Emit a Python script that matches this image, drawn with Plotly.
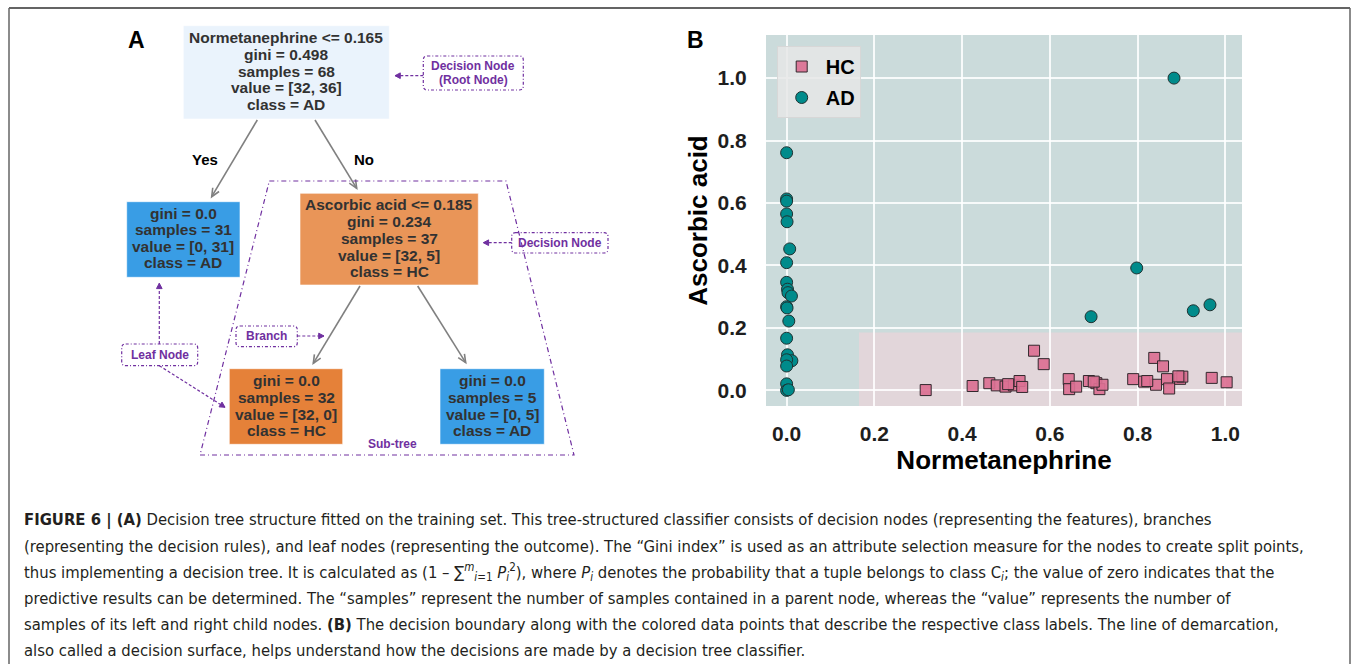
import plotly.graph_objects as go
import numpy as np

W, H = 1355, 664

# ---------------- data (panel B) ----------------
ad_x = [0.000, 0.000, 0.000, 0.000, 0.001, 0.007, 0.000, 0.000, 0.002, 0.003, 0.011,
        0.000, 0.001, 0.005, 0.000, 0.002, 0.012, 0.000, 0.000, 0.000, 0.000, 0.004,
        0.694, 0.798, 0.883, 0.927, 0.965]
ad_y = [0.761, 0.613, 0.606, 0.565, 0.540, 0.453, 0.409, 0.346, 0.324, 0.313, 0.302,
        0.268, 0.264, 0.222, 0.167, 0.114, 0.095, 0.098, 0.078, 0.021, 0.000, 0.002,
        0.236, 0.392, 1.000, 0.255, 0.274]
hc_x = [0.317, 0.424, 0.462, 0.479, 0.499, 0.518, 0.531, 0.537, 0.564, 0.586,
        0.643, 0.644, 0.660, 0.689, 0.706, 0.713, 0.720, 0.790, 0.815, 0.838,
        0.842, 0.858, 0.867, 0.872, 0.897, 0.902, 0.969, 1.003, 0.505, 0.700,
        0.822, 0.893]
hc_y = [0.001, 0.014, 0.023, 0.016, 0.012, 0.016, 0.030, 0.011, 0.127, 0.084,
        0.036, 0.004, 0.012, 0.030, 0.023, 0.004, 0.018, 0.036, 0.028, 0.104,
        0.018, 0.077, 0.036, 0.006, 0.037, 0.044, 0.040, 0.026, 0.020, 0.028,
        0.030, 0.045]
split_x = 0.165   # Normetanephrine threshold
split_y = 0.185   # Ascorbic acid threshold
ticks = [0.0, 0.2, 0.4, 0.6, 0.8, 1.0]
tick_text = ["0.0", "0.2", "0.4", "0.6", "0.8", "1.0"]

# ---------------- data (panel A, tree) ----------------
root_lines = ["Normetanephrine <= 0.165", "gini = 0.498", "samples = 68", "value = [32, 36]", "class = AD"]
left_lines = ["gini = 0.0", "samples = 31", "value = [0, 31]", "class = AD"]
inner_lines = ["Ascorbic acid <= 0.185", "gini = 0.234", "samples = 37", "value = [32, 5]", "class = HC"]
ll_lines = ["gini = 0.0", "samples = 32", "value = [32, 0]", "class = HC"]
lr_lines = ["gini = 0.0", "samples = 5", "value = [0, 5]", "class = AD"]

caption = [
    "<b>FIGURE 6 | (A)</b> Decision tree structure fitted on the training set. This tree-structured classifier consists of decision nodes (representing the features), branches",
    "(representing the decision rules), and leaf nodes (representing the outcome). The \u201cGini index\u201d is used as an attribute selection measure for the nodes to create split points,",
    "thus implementing a decision tree. It is calculated as (1 \u2013 \u2211<sup><i>m</i></sup><sub><i>i</i>=1</sub> <i>P</i><sub><i>i</i></sub><sup>2</sup>), where <i>P<sub>i</sub></i> denotes the probability that a tuple belongs to class C<sub><i>i</i></sub>; the value of zero indicates that the",
    "predictive results can be determined. The \u201csamples\u201d represent the number of samples contained in a parent node, whereas the \u201cvalue\u201d represents the number of",
    "samples of its left and right child nodes. <b>(B)</b> The decision boundary along with the colored data points that describe the respective class labels. The line of demarcation,",
    "also called a decision surface, helps understand how the decisions are made by a decision tree classifier.",
]

FONT = "Liberation Sans, Arial, sans-serif"
CAPFONT = "Liberation Sans Narrow, DejaVu Sans Condensed, Liberation Sans, sans-serif"
PURPLE = "rgb(112,48,160)"
NODE_TXT = "rgb(50,50,50)"


def px(x):
    return x / W


def py(y):
    return 1 - y / H


def P(x, y):
    return f"{px(x):.5f},{py(y):.5f}"


shapes = []
annotations = []


def rect(x0, y0, x1, y1, fill):
    shapes.append(dict(type="rect", xref="paper", yref="paper", x0=px(x0), x1=px(x1),
                       y0=py(y1), y1=py(y0), fillcolor=fill,
                       line=dict(color="rgba(255,255,255,0.6)", width=1), layer="above"))


def rrect(x0, y0, x1, y1, r=4, dash="3px,2px,1px,2px"):
    d = (f"M {P(x0 + r, y0)} L {P(x1 - r, y0)} Q {P(x1, y0)} {P(x1, y0 + r)} "
         f"L {P(x1, y1 - r)} Q {P(x1, y1)} {P(x1 - r, y1)} L {P(x0 + r, y1)} "
         f"Q {P(x0, y1)} {P(x0, y1 - r)} L {P(x0, y0 + r)} Q {P(x0, y0)} {P(x0 + r, y0)} Z")
    shapes.append(dict(type="path", xref="paper", yref="paper", path=d,
                       line=dict(color=PURPLE, width=1.2, dash=dash), layer="above"))


def text(x, y, s, size=15.5, color=NODE_TXT, bold=True, family=FONT, xanchor="center"):
    annotations.append(dict(x=px(x), y=py(y), xref="paper", yref="paper", text=s,
                            showarrow=False, xanchor=xanchor, yanchor="middle",
                            font=dict(size=size, color=color, family=family,
                                      weight="bold" if bold else "normal")))


def node(box, cx, ys, lines, fill):
    rect(*box, fill)
    for yy, s in zip(ys, lines):
        text(cx, yy, s)


def gray_arrow(x0, y0, x1, y1, L=9, ang=24):
    shapes.append(dict(type="line", xref="paper", yref="paper", x0=px(x0), y0=py(y0),
                       x1=px(x1), y1=py(y1), line=dict(color="rgb(128,128,128)", width=1.6)))
    d = np.array([x1 - x0, y1 - y0], float)
    d /= np.linalg.norm(d)
    pts = []
    for s in (1, -1):
        a = np.deg2rad(ang * s)
        rot = np.array([[np.cos(a), -np.sin(a)], [np.sin(a), np.cos(a)]])
        pts.append(np.array([x1, y1]) - L * rot.dot(d))
    path = f"M {P(*pts[0])} L {P(x1, y1)} L {P(*pts[1])}"
    shapes.append(dict(type="path", xref="paper", yref="paper", path=path,
                       line=dict(color="rgb(128,128,128)", width=1.6)))


def purple_arrow(x0, y0, x1, y1, L=6, ang=28):
    shapes.append(dict(type="line", xref="paper", yref="paper", x0=px(x0), y0=py(y0),
                       x1=px(x1), y1=py(y1), line=dict(color=PURPLE, width=1.2, dash="3px,2px")))
    d = np.array([x1 - x0, y1 - y0], float)
    d /= np.linalg.norm(d)
    pts = []
    for s in (1, -1):
        a = np.deg2rad(ang * s)
        rot = np.array([[np.cos(a), -np.sin(a)], [np.sin(a), np.cos(a)]])
        pts.append(np.array([x1, y1]) - L * rot.dot(d))
    path = f"M {P(*pts[0])} L {P(x1, y1)} L {P(*pts[1])} Z"
    shapes.append(dict(type="path", xref="paper", yref="paper", path=path,
                       fillcolor=PURPLE, line=dict(color=PURPLE, width=1)))


# ---------------- panel A: tree ----------------
node((183.3, 25.7, 389.3, 119), 286.3, [37.3, 54.3, 71, 87.7, 104.3], root_lines, "rgb(234,243,252)")
node((126.7, 201.7, 240, 277.3), 183.3, [213.3, 230, 246.7, 262.7], left_lines, "rgb(57,157,229)")
node((300, 193.3, 478.3, 285), 389, [204.3, 221.7, 238.3, 255, 271.7], inner_lines, "rgb(233,149,88)")
node((229.3, 368.7, 342.7, 444.3), 286, [380.7, 397, 414, 430.3], ll_lines, "rgb(229,129,57)")
node((440, 368.7, 544.3, 444.3), 492, [380.7, 397, 414, 430.3], lr_lines, "rgb(57,157,229)")

gray_arrow(257.3, 120, 211.7, 196.7)
gray_arrow(315, 120, 356.7, 188.3)
gray_arrow(360, 286, 313.3, 363.3)
gray_arrow(417.7, 286, 465.7, 362.7)
text(205, 159.3, "Yes", size=15, color="black")
text(364.3, 159.3, "No", size=15, color="black")

# annotation boxes
rrect(423.3, 56, 523.3, 90)
text(473.3, 65.7, "Decision Node", size=12, color=PURPLE)
text(473.3, 80, "(Root Node)", size=12, color=PURPLE)
purple_arrow(423.3, 75.7, 395, 75.7)

rrect(511.7, 232.7, 608, 253)
text(560, 243, "Decision Node", size=12, color=PURPLE)
purple_arrow(511.7, 242.7, 483.3, 242.7)

rrect(236, 326, 297.3, 346.7)
text(266.7, 336.3, "Branch", size=12, color=PURPLE)
purple_arrow(297.3, 336, 324, 336)

rrect(121.7, 344, 197.7, 365.7)
text(159.7, 355, "Leaf Node", size=12, color=PURPLE)
purple_arrow(159.3, 344, 159.3, 283.3)
purple_arrow(159.3, 365.7, 225, 407.3)

# sub-tree trapezoid
shapes.append(dict(type="path", xref="paper", yref="paper",
                   path=f"M {P(269.3, 181)} L {P(506, 181)} L {P(574, 455)} L {P(200, 455)} Z",
                   line=dict(color=PURPLE, width=1.2, dash="5px,3px,1px,3px"), layer="above"))
text(392, 444, "Sub-tree", size=12, color=PURPLE)

# panel letters
text(136, 40.5, "A", size=23, color="black")
text(695, 40, "B", size=23, color="black")

# caption
for i, line in enumerate(caption):
    text(22, 520 + 26 * i, line, size=16.5, color="rgb(35,31,32)", bold=False,
         family=CAPFONT, xanchor="left")

# frame
for (x0, y0, x1, y1, w) in [(9, 8, 1350, 8, 2), (9, 8, 9, 664, 1.5), (1350, 8, 1350, 664, 1.5)]:
    shapes.append(dict(type="line", xref="paper", yref="paper", x0=px(x0), y0=py(y0),
                       x1=px(x1), y1=py(y1), line=dict(color="rgb(100,100,100)", width=w)))

# ---------------- panel B ----------------
xr = [-0.047, 1.038]
yr = [-0.05, 1.138]
shapes.append(dict(type="rect", xref="x", yref="y", x0=split_x, x1=xr[1], y0=yr[0], y1=split_y,
                   fillcolor="rgb(226,214,218)", line=dict(width=0), layer="below"))

fig = go.Figure()
fig.add_trace(go.Scatter(x=hc_x, y=hc_y, mode="markers", name="HC", legendgroup="hc",
                         marker=dict(symbol="square", size=11, color="rgba(219,112,147,0.92)",
                                     line=dict(color="rgb(50,40,45)", width=1))))
fig.add_trace(go.Scatter(x=ad_x, y=ad_y, mode="markers", name="AD", legendgroup="ad",
                         marker=dict(symbol="circle", size=12, color="rgb(0,139,139)",
                                     line=dict(color="rgb(30,50,50)", width=1))))

axis_font = dict(size=21, color="rgb(30,30,30)", family=FONT, weight="bold")
fig.update_layout(
    width=W, height=H, margin=dict(l=0, r=0, t=0, b=0),
    paper_bgcolor="white", plot_bgcolor="rgb(203,219,219)",
    xaxis=dict(domain=[766 / W, 1242 / W], range=xr, tickvals=ticks, ticktext=tick_text,
               showgrid=True, gridcolor="rgba(255,255,255,0.85)", gridwidth=1.6,
               zeroline=False, showline=False, ticks="outside", ticklen=9,
               tickcolor="rgba(0,0,0,0)", tickfont=axis_font,
               title=dict(text="Normetanephrine", standoff=2,
                          font=dict(size=26, color="black", family=FONT, weight="bold"))),
    yaxis=dict(domain=[1 - 406 / H, 1 - 35 / H], range=yr, tickvals=ticks, ticktext=tick_text,
               showgrid=True, gridcolor="rgba(255,255,255,0.85)", gridwidth=1.6,
               zeroline=False, showline=False, ticks="outside", ticklen=14,
               tickcolor="rgba(0,0,0,0)", tickfont=axis_font,
               title=dict(text="Ascorbic acid", standoff=2,
                          font=dict(size=26, color="black", family=FONT, weight="bold"))),
    legend=dict(x=776.7 / W, y=1 - 46 / H, xanchor="left", yanchor="top",
                bgcolor="rgba(230,230,230,0.85)", bordercolor="rgba(215,215,215,1)", borderwidth=1,
                font=dict(size=20, color="black", family=FONT, weight="bold"),
                traceorder="grouped", tracegroupgap=2, itemwidth=38),
    shapes=shapes, annotations=annotations,
)

fig.write_html("out.html")
